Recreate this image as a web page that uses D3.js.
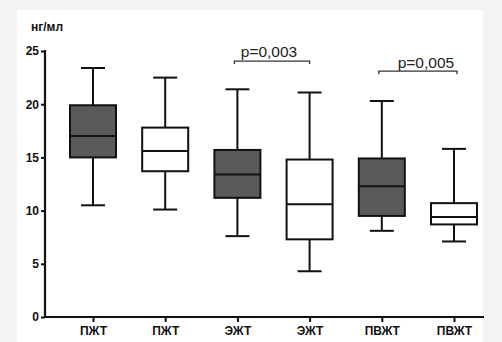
<!DOCTYPE html>
<html><head><meta charset="utf-8">
<script src="https://cdn.jsdelivr.net/npm/d3@7"></script>
<style>
html,body{margin:0;padding:0;background:#f3f3f3;}
svg{display:block;font-family:"Liberation Sans",Arial,sans-serif;}
</style></head>
<body>
<svg id="chart" width="502" height="342"></svg>
<script>
const categories = ["ПЖТ1","ПЖТ2","ЭЖТ1","ЭЖТ2","ПВЖТ1","ПВЖТ2"];
const categoryLabels = ["ПЖТ","ПЖТ","ЭЖТ","ЭЖТ","ПВЖТ","ПВЖТ"];
const fills = ["dark","light","dark","light","dark","light"];
const whiskerHigh = [23.4, 22.5, 21.4, 21.1, 20.3, 15.8];
const q3 = [19.9, 17.8, 15.7, 14.8, 14.9, 10.7];
const median = [17.0, 15.6, 13.4, 10.6, 12.3, 9.4];
const q1 = [15.0, 13.7, 11.2, 7.3, 9.5, 8.7];
const whiskerLow = [10.5, 10.1, 7.6, 4.3, 8.1, 7.1];
const yTicks = [0, 5, 10, 15, 20, 25];
const yUnit = "нг/мл";
const comparisons = [
  {from: "ЭЖТ1", to: "ЭЖТ2", level: 24.05, label: "p=0,003"},
  {from: "ПВЖТ1", to: "ПВЖТ2", level: 23.1, label: "p=0,005"}
];

const svg = d3.select("#chart");
svg.append("rect").attr("x",17).attr("y",10).attr("width",466).attr("height",332).attr("fill","#fff");

const x = d3.scalePoint().domain(categories).range([93, 454]);
const y = d3.scaleLinear().domain([0, 25]).range([317, 51]);
const axisLeftX = 45, axisRightX = 484;
const boxW = 46, capW = 24;
const ink = "#111";

// Y axis
const gy = svg.append("g").attr("transform", `translate(${axisLeftX},0)`)
  .call(d3.axisLeft(y).tickValues(yTicks).tickSize(4).tickPadding(2).tickFormat(d3.format("d")));
gy.select(".domain").remove();
gy.selectAll(".tick line").attr("stroke", ink).attr("stroke-width", 2);
gy.selectAll(".tick text").attr("font-size", 12).attr("font-weight", "bold").attr("fill", ink)
  .attr("font-family", "'Liberation Sans',Arial,sans-serif");
svg.append("line").attr("x1", axisLeftX).attr("x2", axisLeftX).attr("y1", y(25)-1).attr("y2", y(0)+1)
  .attr("stroke", ink).attr("stroke-width", 2.2);

// X axis
const gx = svg.append("g").attr("transform", `translate(0,${y(0)})`)
  .call(d3.axisBottom(x).tickSize(5).tickPadding(4).tickFormat((d,i) => categoryLabels[i]));
gx.select(".domain").remove();
gx.selectAll(".tick line").attr("stroke", ink).attr("stroke-width", 2);
gx.selectAll(".tick text").attr("font-size", 12).attr("font-weight", "bold").attr("fill", ink)
  .attr("font-family", "'Liberation Sans',Arial,sans-serif");
svg.append("line").attr("x1", axisLeftX-1).attr("x2", axisRightX).attr("y1", y(0)).attr("y2", y(0))
  .attr("stroke", ink).attr("stroke-width", 2.2);

// Unit label
svg.append("text").attr("x", 31).attr("y", 31).attr("font-size", 12).attr("font-weight", "bold")
  .attr("fill", ink).text(yUnit);

// Boxes
const boxes = svg.append("g");
categories.forEach((c, i) => {
  const cx = x(c);
  const g = boxes.append("g");
  g.append("line").attr("x1", cx).attr("x2", cx).attr("y1", y(whiskerHigh[i])).attr("y2", y(q3[i]))
    .attr("stroke", ink).attr("stroke-width", 2);
  g.append("line").attr("x1", cx).attr("x2", cx).attr("y1", y(q1[i])).attr("y2", y(whiskerLow[i]))
    .attr("stroke", ink).attr("stroke-width", 2);
  g.append("line").attr("x1", cx - capW/2).attr("x2", cx + capW/2).attr("y1", y(whiskerHigh[i])).attr("y2", y(whiskerHigh[i]))
    .attr("stroke", ink).attr("stroke-width", 2);
  g.append("line").attr("x1", cx - capW/2).attr("x2", cx + capW/2).attr("y1", y(whiskerLow[i])).attr("y2", y(whiskerLow[i]))
    .attr("stroke", ink).attr("stroke-width", 2);
  g.append("rect").attr("x", cx - boxW/2).attr("y", y(q3[i])).attr("width", boxW)
    .attr("height", y(q1[i]) - y(q3[i]))
    .attr("fill", fills[i] === "dark" ? "#5a5a5a" : "#fff").attr("stroke", ink).attr("stroke-width", 2);
  g.append("line").attr("x1", cx - boxW/2).attr("x2", cx + boxW/2).attr("y1", y(median[i])).attr("y2", y(median[i]))
    .attr("stroke", ink).attr("stroke-width", 2);
});

// Significance brackets
comparisons.forEach((cmp, k) => {
  const x1 = x(cmp.from) - 3, x2 = x(cmp.to) + (k === 0 ? 0 : 3);
  const yy = y(cmp.level);
  svg.append("path").attr("d", `M${x1},${yy+3}V${yy}H${x2}V${yy+3}`)
    .attr("fill", "none").attr("stroke", "#333").attr("stroke-width", 1.3);
  const tx = k === 0 ? (x1 + x2) / 2 - 3 : (x1 + x2) / 2 + 8;
  svg.append("text").attr("x", tx).attr("y", yy - (k === 0 ? 4 : 3)).attr("text-anchor", "middle")
    .attr("font-size", 15.5).attr("fill", "#222").text(cmp.label);
});
</script>
</body></html>
